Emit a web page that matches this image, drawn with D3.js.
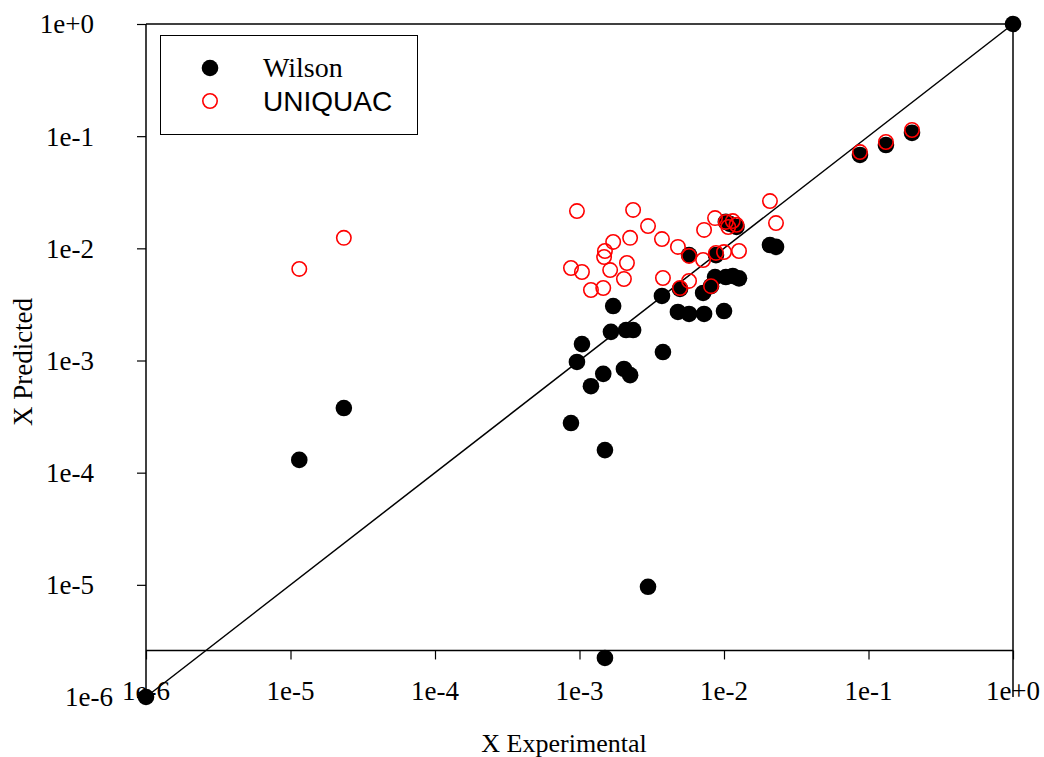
<!DOCTYPE html>
<html>
<head>
<meta charset="utf-8">
<script src="https://cdn.jsdelivr.net/npm/d3@7"></script>
<style>
  html, body { margin: 0; padding: 0; background: #fff; }
  svg { display: block; }
</style>
</head>
<body>
<svg id="chart" width="1044" height="757"></svg>
<script>
// Experimental vs. predicted mole fractions, Wilson and UNIQUAC models
const wilsonX = [1.15e-5, 2.34e-5, 8.73e-4, 9.6e-4, 1.04e-3, 1.2e-3, 1.46e-3, 1.5e-3, 1.5e-3,
  1.71e-3, 1.65e-3, 2.03e-3, 2.24e-3, 2.1e-3, 2.35e-3, 2.98e-3, 3.72e-3, 3.78e-3, 4.8e-3,
  4.96e-3, 5.73e-3, 5.73e-3, 7.17e-3, 7.28e-3, 8.13e-3, 8.67e-3, 8.8e-3, 1.0e-2, 1.03e-2,
  1.15e-2, 1.27e-2, 1.03e-2, 1.1e-2, 1.22e-2, 2.08e-2, 2.29e-2, 8.73e-2, 0.132, 0.2];
const wilsonY = [1.30e-4, 3.77e-4, 2.77e-4, 9.7e-4, 1.40e-3, 5.9e-4, 7.6e-4, 1.59e-4, 2.23e-6,
  3.06e-3, 1.80e-3, 8.4e-4, 7.4e-4, 1.87e-3, 1.87e-3, 9.6e-6, 3.76e-3, 1.19e-3, 2.71e-3,
  4.34e-3, 2.6e-3, 8.72e-3, 4.0e-3, 2.6e-3, 4.6e-3, 5.55e-3, 8.7e-3, 2.76e-3, 5.55e-3,
  5.67e-3, 5.4e-3, 1.72e-2, 1.65e-2, 1.55e-2, 1.07e-2, 1.03e-2, 6.8e-2, 8.34e-2, 0.107];

const uniquacX = [1.15e-5, 2.34e-5, 9.6e-4, 8.73e-4, 1.04e-3, 1.2e-3, 1.46e-3, 1.5e-3, 1.48e-3,
  1.71e-3, 1.63e-3, 2.03e-3, 2.13e-3, 2.24e-3, 2.35e-3, 2.98e-3, 3.72e-3, 3.78e-3, 4.8e-3,
  4.96e-3, 5.73e-3, 5.73e-3, 7.17e-3, 7.28e-3, 8.13e-3, 8.67e-3, 8.8e-3, 1.0e-2, 1.03e-2,
  1.07e-2, 1.15e-2, 1.22e-2, 1.27e-2, 2.08e-2, 2.29e-2, 8.73e-2, 0.132, 0.2];
const uniquacY = [6.55e-3, 1.24e-2, 2.15e-2, 6.68e-3, 6.15e-3, 4.25e-3, 4.43e-3, 9.47e-3, 8.37e-3,
  1.14e-2, 6.4e-3, 5.33e-3, 7.4e-3, 1.24e-2, 2.2e-2, 1.58e-2, 1.21e-2, 5.44e-3, 1.03e-2,
  4.43e-3, 8.55e-3, 5.12e-3, 7.87e-3, 1.46e-2, 4.6e-3, 1.86e-2, 9.1e-3, 9.27e-3, 1.72e-2,
  1.55e-2, 1.75e-2, 1.62e-2, 9.47e-3, 2.64e-2, 1.68e-2, 7.22e-2, 8.87e-2, 0.1135];

// y = x reference line endpoints
const parityX = [1e-6, 1];
const parityY = [1e-6, 1];

const tickValues = [1e-6, 1e-5, 1e-4, 1e-3, 1e-2, 1e-1, 1e0];
const tickLabels = ["1e-6", "1e-5", "1e-4", "1e-3", "1e-2", "1e-1", "1e+0"];
const xAxisCrossing = 2.6e-6;   // value of X Predicted where the X axis is drawn

const seriesNames = ["Wilson", "UNIQUAC"];

const serif = "'Liberation Serif', 'Times New Roman', serif";
const sans = "'Liberation Sans', Arial, sans-serif";

const svg = d3.select("#chart");
const plotLeft = 146, plotRight = 1013, plotTop = 24, plotBottom = 697;

const x = d3.scaleLog().domain([1e-6, 1]).range([plotLeft, plotRight]);
const y = d3.scaleLog().domain([1e-6, 1]).range([plotBottom, plotTop]);

const axisY = y(xAxisCrossing);

// frame: top edge and right side line
svg.append("line").attr("x1", plotLeft).attr("x2", plotRight).attr("y1", plotTop).attr("y2", plotTop)
  .attr("stroke", "#000").attr("stroke-width", 1.5);
svg.append("line").attr("x1", plotRight).attr("x2", plotRight).attr("y1", plotTop).attr("y2", plotBottom)
  .attr("stroke", "#000").attr("stroke-width", 1.5);

// X axis (ticks only; labels drawn separately below)
const xAxis = d3.axisBottom(x).tickValues(tickValues).tickSize(9).tickFormat("");
const gx = svg.append("g").attr("transform", `translate(0,${axisY})`).call(xAxis);
gx.select(".domain").attr("stroke", "#000").attr("stroke-width", 1.5).attr("d", `M${plotLeft},0H${plotRight}`);
gx.selectAll(".tick line").attr("stroke", "#000").attr("stroke-width", 1.2);

// Y axis
const yAxis = d3.axisLeft(y).tickValues(tickValues).tickSize(9).tickFormat("");
const gy = svg.append("g").attr("transform", `translate(${plotLeft},0)`).call(yAxis);
gy.select(".domain").attr("stroke", "#000").attr("stroke-width", 1.5).attr("d", `M0,${plotTop}V${plotBottom}`);
gy.selectAll(".tick line").attr("stroke", "#000").attr("stroke-width", 1.2);

// tick labels
svg.append("g").selectAll("text").data(tickValues).join("text")
  .attr("x", d => x(d)).attr("y", 700)
  .attr("text-anchor", "middle")
  .attr("font-family", serif).attr("font-size", 27)
  .text((d, i) => tickLabels[i]);

// the lowest Y label sits closer to the axis than the others
svg.append("g").selectAll("text").data(tickValues).join("text")
  .attr("x", (d, i) => i === 0 ? 113 : 94).attr("y", d => y(d)).attr("dy", "0.35em")
  .attr("text-anchor", "end")
  .attr("font-family", serif).attr("font-size", 27)
  .text((d, i) => tickLabels[i]);

// axis titles
svg.append("text").attr("x", 564).attr("y", 752).attr("text-anchor", "middle")
  .attr("font-family", serif).attr("font-size", 26).text("X Experimental");
svg.append("text").attr("transform", "translate(32,362) rotate(-90)").attr("text-anchor", "middle")
  .attr("font-family", serif).attr("font-size", 27).text("X Predicted");

// parity line with end markers
const line = d3.line().x(d => x(d[0])).y(d => y(d[1]));
const parity = parityX.map((v, i) => [v, parityY[i]]);
svg.append("path").datum(parity).attr("d", line)
  .attr("fill", "none").attr("stroke", "#000").attr("stroke-width", 1.5);
svg.append("g").selectAll("circle").data(parity).join("circle")
  .attr("cx", d => x(d[0])).attr("cy", d => y(d[1])).attr("r", 8.3).attr("fill", "#000");

// Wilson (filled black)
svg.append("g").selectAll("circle").data(wilsonX.map((v, i) => [v, wilsonY[i]])).join("circle")
  .attr("cx", d => x(d[0])).attr("cy", d => y(d[1])).attr("r", 8.3).attr("fill", "#000");

// UNIQUAC (open red)
svg.append("g").selectAll("circle").data(uniquacX.map((v, i) => [v, uniquacY[i]])).join("circle")
  .attr("cx", d => x(d[0])).attr("cy", d => y(d[1])).attr("r", 7.2)
  .attr("fill", "none").attr("stroke", "#ff0000").attr("stroke-width", 1.6);

// legend
const lg = svg.append("g");
lg.append("rect").attr("x", 160.5).attr("y", 35.5).attr("width", 257).attr("height", 99)
  .attr("fill", "#fff").attr("stroke", "#000").attr("stroke-width", 1);
lg.append("circle").attr("cx", 210).attr("cy", 68).attr("r", 8.3).attr("fill", "#000");
lg.append("circle").attr("cx", 210).attr("cy", 101).attr("r", 7.2)
  .attr("fill", "none").attr("stroke", "#ff0000").attr("stroke-width", 1.6);
lg.append("text").attr("x", 263).attr("y", 77).attr("font-family", serif).attr("font-size", 28)
  .text(seriesNames[0]);
lg.append("text").attr("x", 263).attr("y", 111).attr("font-family", sans).attr("font-size", 28)
  .text(seriesNames[1]);
</script>
</body>
</html>
